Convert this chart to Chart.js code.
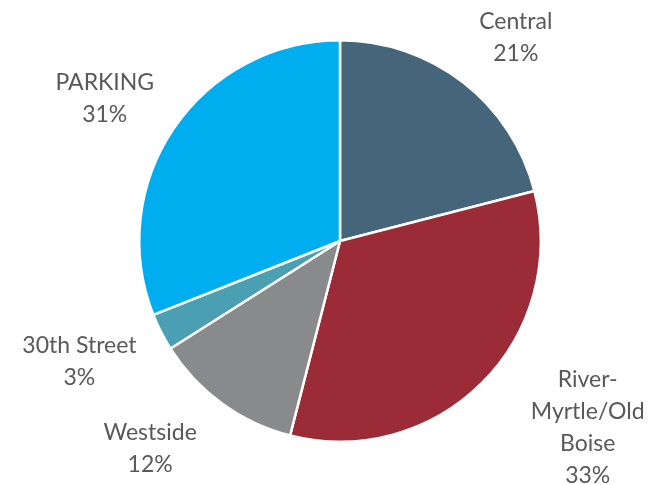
<!DOCTYPE html>
<html>
<head>
<meta charset="utf-8">
<script src="https://cdn.jsdelivr.net/npm/chart.js@4"></script>
<style>
  html, body { margin: 0; padding: 0; background: #ffffff; }
  #grafico { display: block; }
</style>
</head>
<body>
<canvas id="grafico" width="651" height="485"></canvas>
<script>
// share of each district, in percent
const zonas = ["Central", "River-Myrtle/Old Boise", "Westside", "30th Street", "PARKING"];
const porcentajes = [21, 33, 12, 3, 31];
// label text per slice (one entry per line)
const etiquetas = [
  ["Central"],
  ["River-", "Myrtle/Old", "Boise"],
  ["Westside"],
  ["30th Street"],
  ["PARKING"],
];

const colores = ["#45667a", "#9b2c37", "#898a8c", "#4a9fb3", "#00aeef"];

// where each label sits: distance as a fraction of the radius, and angle shift in degrees
const colocacion = [
  { dist: 1.34, giro: 3 },
  { dist: 1.545, giro: -8 },
  { dist: 1.40, giro: 6.5 },
  { dist: 1.43, giro: 2.2 },
  { dist: 1.37, giro: -3 },
];

const etiquetasPlugin = {
  id: "etiquetasPie",
  afterDatasetsDraw(chart) {
    const ctx = chart.ctx;
    const meta = chart.getDatasetMeta(0);
    ctx.save();
    ctx.font = "23px Lato";
    ctx.fillStyle = "#595959";
    ctx.textAlign = "center";
    ctx.textBaseline = "middle";
    const alto = 32;
    meta.data.forEach((arco, i) => {
      const medio = (arco.startAngle + arco.endAngle) / 2 + colocacion[i].giro * Math.PI / 180;
      const r = arco.outerRadius * colocacion[i].dist;
      const cx = arco.x + Math.cos(medio) * r;
      const cy = arco.y + Math.sin(medio) * r;
      const lineas = etiquetas[i].concat([porcentajes[i] + "%"]);
      const y0 = cy - (lineas.length - 1) * alto / 2;
      lineas.forEach((t, j) => ctx.fillText(t, cx, y0 + j * alto));
    });
    ctx.restore();
  },
};

const ctx = document.getElementById("grafico").getContext("2d");

const miGrafico = new Chart(ctx, {
  type: "pie",
  data: {
    labels: zonas,
    datasets: [
      {
        data: porcentajes,
        backgroundColor: colores,
        borderColor: "#ffffff",
        borderWidth: 2.5,
      },
    ],
  },
  options: {
    responsive: false,
    animation: false,
    layout: {
      padding: { left: 138, right: 109, top: 39, bottom: 42 },
    },
    plugins: {
      legend: { display: false },
      tooltip: { enabled: false },
    },
  },
  plugins: [etiquetasPlugin],
});
</script>
</body>
</html>
